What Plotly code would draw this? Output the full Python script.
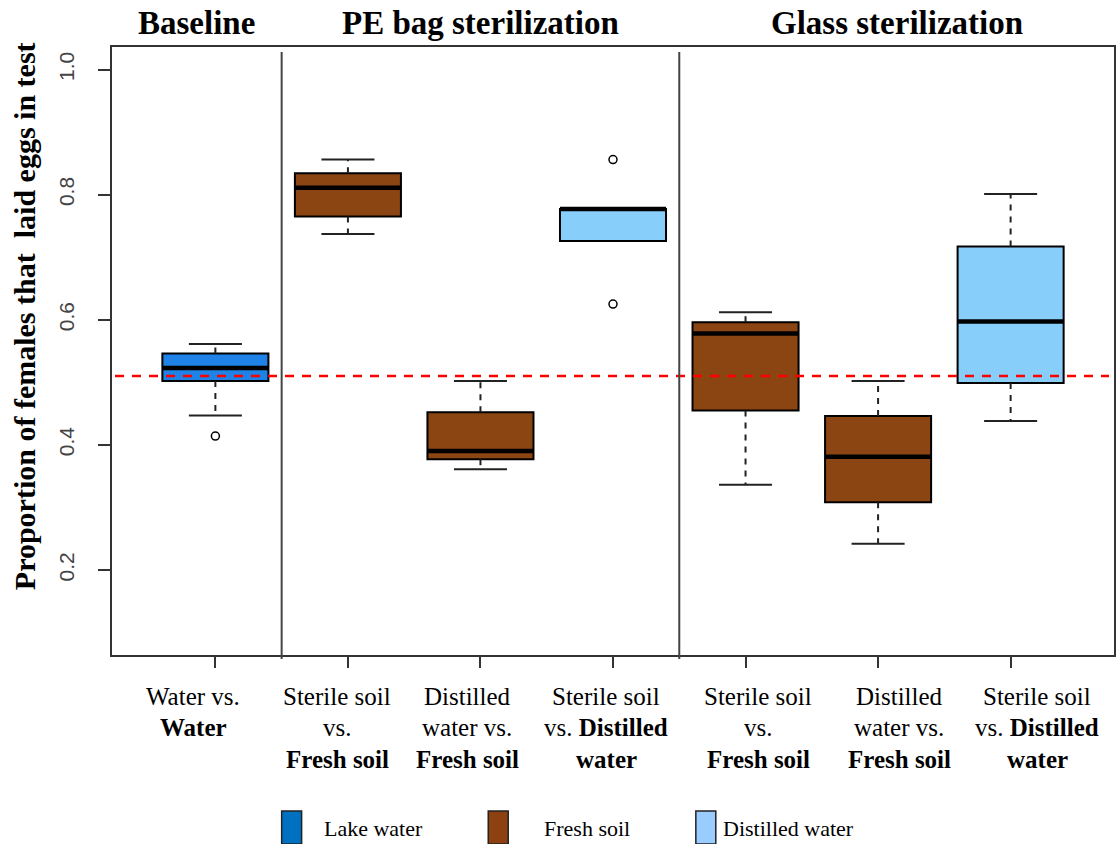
import plotly.graph_objects as go

# ---------------- data ----------------
categories = ["Water vs. Water",
              "PE: Sterile soil vs. Fresh soil",
              "PE: Distilled water vs. Fresh soil",
              "PE: Sterile soil vs. Distilled water",
              "Glass: Sterile soil vs. Fresh soil",
              "Glass: Distilled water vs. Fresh soil",
              "Glass: Sterile soil vs. Distilled water"]
treatment = ["Lake water", "Fresh soil", "Fresh soil", "Distilled water",
             "Fresh soil", "Fresh soil", "Distilled water"]
lower_whisker = [0.447, 0.737, 0.361, 0.726, 0.336, 0.242, 0.438]
q1 = [0.502, 0.765, 0.377, 0.726, 0.455, 0.308, 0.499]
median = [0.523, 0.811, 0.390, 0.777, 0.578, 0.381, 0.597]
q3 = [0.546, 0.834, 0.452, 0.777, 0.596, 0.446, 0.717]
upper_whisker = [0.561, 0.856, 0.502, 0.777, 0.612, 0.502, 0.801]
outlier_box = [1, 4, 4]
outlier_val = [0.414, 0.856, 0.625]
reference_level = 0.51

section_names = ["Baseline", "PE bag sterilization", "Glass sterilization"]
section_breaks = [1.5, 4.5]

label_lines = [
    ["Water vs.", "<b>Water</b>"],
    ["Sterile soil", "vs.", "<b>Fresh soil</b>"],
    ["Distilled", "water vs.", "<b>Fresh soil</b>"],
    ["Sterile soil", "vs. <b>Distilled</b>", "<b>water</b>"],
    ["Sterile soil", "vs.", "<b>Fresh soil</b>"],
    ["Distilled", "water vs.", "<b>Fresh soil</b>"],
    ["Sterile soil", "vs. <b>Distilled</b>", "<b>water</b>"],
]
y_ticks = [0.2, 0.4, 0.6, 0.8, 1.0]
y_ticklabels = ["0.2", "0.4", "0.6", "0.8", "1.0"]
y_title = "Proportion of females that  laid eggs in test"

legend_names = ["Lake water", "Fresh soil", "Distilled water"]
box_colors = {"Lake water": "#1E82E6", "Fresh soil": "#8B4513", "Distilled water": "#87CEFA"}
legend_colors = {"Lake water": "#0070C0", "Fresh soil": "#8E4110", "Distilled water": "#99CCFF"}

# ---------------- layout constants ----------------
W, H = 1120, 844
ML, MR, MT, MB = 112, 4, 47, 189
PW, PH = W - ML - MR, H - MT - MB
XR = [0.22, 7.78]
YR = [0.064, 1.036]
SERIF = "Liberation Serif, Times New Roman, serif"
SANS = "Liberation Sans, Arial, sans-serif"


def px_x(px):
    return (px - ML) / PW


def px_y(py):
    return (H - MB - py) / PH


positions = list(range(1, len(categories) + 1))
box_w = 0.8
cap_w = 0.4

fig = go.Figure()

for i, pos in enumerate(positions):
    fig.add_trace(go.Box(
        x=[pos], q1=[q1[i]], median=[median[i]], q3=[q3[i]],
        lowerfence=[q1[i]], upperfence=[q3[i]],
        width=box_w, fillcolor=box_colors[treatment[i]],
        line=dict(color="black", width=2), boxpoints=False,
        whiskerwidth=0, showlegend=False, name=categories[i], hoverinfo="skip"))

# whiskers (dashed)
wx, wy = [], []
for i, pos in enumerate(positions):
    if upper_whisker[i] > q3[i]:
        wx += [pos, pos, None]
        wy += [q3[i], upper_whisker[i], None]
    if lower_whisker[i] < q1[i]:
        wx += [pos, pos, None]
        wy += [q1[i], lower_whisker[i], None]
fig.add_trace(go.Scatter(x=wx, y=wy, mode="lines", showlegend=False,
                         line=dict(color="#222", width=2, dash="6px,6px"), hoverinfo="skip"))

# staples
cx, cy = [], []
for i, pos in enumerate(positions):
    for v, edge in ((upper_whisker[i], q3[i]), (lower_whisker[i], q1[i])):
        if v != edge:
            cx += [pos - cap_w / 2, pos + cap_w / 2, None]
            cy += [v, v, None]
fig.add_trace(go.Scatter(x=cx, y=cy, mode="lines", showlegend=False,
                         line=dict(color="#222", width=2), hoverinfo="skip"))

# medians (thick)
mx, my = [], []
for i, pos in enumerate(positions):
    mx += [pos - box_w / 2, pos + box_w / 2, None]
    my += [median[i], median[i], None]
fig.add_trace(go.Scatter(x=mx, y=my, mode="lines", showlegend=False,
                         line=dict(color="black", width=4.5), hoverinfo="skip"))

# outliers
fig.add_trace(go.Scatter(x=outlier_box, y=outlier_val, mode="markers", showlegend=False,
                         marker=dict(symbol="circle-open", size=8, color="black",
                                     line=dict(width=1.5)), hoverinfo="skip"))

shapes = []
# reference line
shapes.append(dict(type="line", xref="paper", yref="y", x0=0.003, x1=0.995,
                   y0=reference_level, y1=reference_level, layer="above",
                   line=dict(color="#FF0000", width=2.5, dash="9px,8px")))
# section separators
for b in section_breaks:
    shapes.append(dict(type="line", xref="x", yref="paper", x0=b, x1=b,
                       y0=px_y(659), y1=px_y(52), layer="above",
                       line=dict(color="#444", width=2)))

annotations = []
# section titles
bounds = [XR[0]] + section_breaks + [XR[1]]
for k, name in enumerate(section_names):
    annotations.append(dict(text="<b>%s</b>" % name, xref="x", yref="paper",
                            x=(bounds[k] + bounds[k + 1]) / 2, y=px_y(23),
                            xanchor="center", yanchor="middle", showarrow=False,
                            font=dict(family=SERIF, size=33, color="black")))

# category labels
label_centers_px = [193.6, 337.6, 468, 607, 759.6, 900.6, 1039]
line_y_px = [696.7, 727.5, 759]
for i, lines in enumerate(label_lines):
    for j, t in enumerate(lines):
        annotations.append(dict(text=t, xref="paper", yref="paper",
                                x=px_x(label_centers_px[i]), y=px_y(line_y_px[j]),
                                xanchor="center", yanchor="middle", showarrow=False,
                                font=dict(family=SERIF, size=25, color="black")))

# y-axis title
annotations.append(dict(text="<b>%s</b>" % y_title, xref="paper", yref="paper",
                        x=px_x(24), y=px_y(316), textangle=-90,
                        xanchor="center", yanchor="middle", showarrow=False,
                        font=dict(family=SERIF, size=30, color="black")))

# legend
legend_sq_px = [282, 489, 697]
legend_txt_px = [322, 543, 722]
for k, name in enumerate(legend_names):
    shapes.append(dict(type="rect", xref="paper", yref="paper",
                       x0=px_x(legend_sq_px[k]), x1=px_x(legend_sq_px[k] + 20),
                       y0=px_y(844), y1=px_y(811),
                       fillcolor=legend_colors[name], line=dict(color="#222", width=1.5)))
    annotations.append(dict(text=name, xref="paper", yref="paper",
                            x=px_x(legend_txt_px[k]), y=px_y(828),
                            xanchor="left", yanchor="middle", showarrow=False,
                            font=dict(family=SERIF, size=22, color="black")))

fig.update_layout(
    width=W, height=H, autosize=False,
    margin=dict(l=ML, r=MR, t=MT, b=MB, pad=0),
    paper_bgcolor="white", plot_bgcolor="white",
    showlegend=False,
    shapes=shapes, annotations=annotations,
    xaxis=dict(range=XR, tickmode="array", tickvals=positions, ticktext=[""] * len(positions),
               ticks="outside", ticklen=11, tickwidth=2, tickcolor="#333",
               showline=True, mirror=True, linecolor="#333", linewidth=2,
               showgrid=False, zeroline=False, fixedrange=True),
    yaxis=dict(range=YR, tickmode="array", tickvals=y_ticks, ticktext=y_ticklabels,
               tickangle=-90, ticks="outside", ticklen=12, tickwidth=2, tickcolor="#333",
               ticklabelstandoff=16,
               tickfont=dict(family=SANS, size=21, color="#444"),
               showline=True, mirror=True, linecolor="#333", linewidth=2,
               showgrid=False, zeroline=False, fixedrange=True),
)

fig.write_html("out.html", config={"displayModeBar": False},
               post_script="document.body.style.margin='0';document.body.style.overflow='hidden';")
